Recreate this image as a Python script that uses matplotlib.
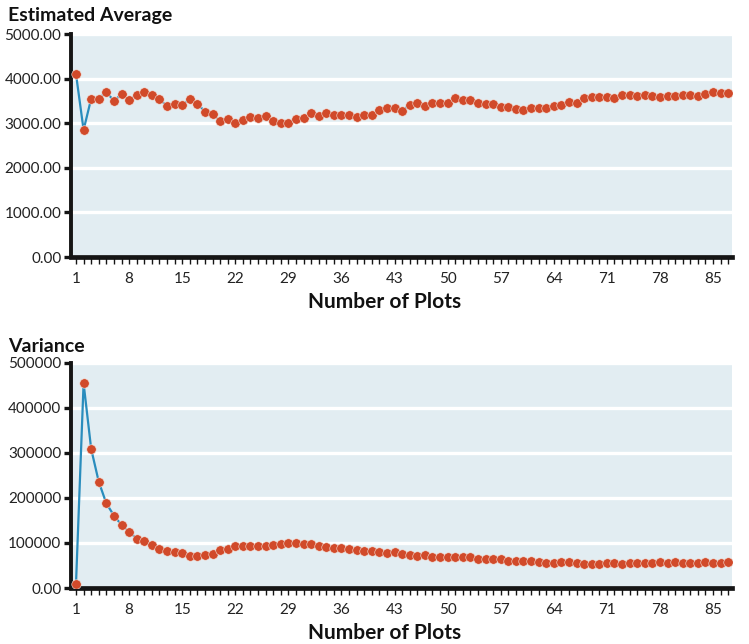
"""Estimated average and variance vs number of plots."""

import matplotlib
matplotlib.use("Agg")
import matplotlib.pyplot as plt

plots = list(range(1, 88))

estimated_average = [
    4100, 2850, 3550, 3550, 3700, 3500, 3650, 3520, 3630, 3700,
    3630, 3535, 3390, 3420, 3410, 3535, 3440, 3260, 3200, 3040,
    3090, 3000, 3070, 3145, 3125, 3160, 3050, 3005, 3010, 3090,
    3125, 3220, 3155, 3220, 3185, 3185, 3185, 3140, 3185, 3185,
    3295, 3335, 3335, 3280, 3410, 3445, 3395, 3445, 3445, 3445,
    3555, 3520, 3520, 3445, 3425, 3425, 3355, 3355, 3315, 3295,
    3350, 3335, 3335, 3395, 3410, 3485, 3460, 3555, 3595, 3595,
    3595, 3570, 3630, 3630, 3610, 3630, 3620, 3595, 3610, 3610,
    3630, 3630, 3620, 3645, 3705, 3670, 3670,
]

variance = [
    10000, 455000, 309000, 236000, 188000, 161000, 140000, 125000, 110000, 104000,
    95500, 86500, 82200, 79000, 77000, 71000, 70500, 72500, 75000, 83500,
    86300, 93300, 93300, 93300, 92500, 93600, 96000, 97500, 100000, 100000,
    98500, 98000, 93300, 92000, 90000, 89000, 87500, 85000, 82600, 82000,
    79000, 78500, 79300, 74800, 73300, 71100, 73300, 69600, 68100, 68100,
    68100, 68100, 68100, 63700, 63700, 63700, 64400, 60700, 60700, 60700,
    60700, 58500, 56300, 56600, 57000, 57000, 54800, 52600, 52600, 52600,
    54800, 54800, 52600, 54800, 56300, 56300, 56300, 57000, 56300, 57000,
    56300, 56300, 56300, 57000, 56300, 54800, 57000,
]

x_tick_values = [1, 8, 15, 22, 29, 36, 43, 50, 57, 64, 71, 78, 85]

avg_ticks = [0, 1000, 2000, 3000, 4000, 5000]
avg_tick_labels = ["0.00", "1000.00", "2000.00", "3000.00", "4000.00", "5000.00"]

var_ticks = [0, 100000, 200000, 300000, 400000, 500000]
var_tick_labels = ["0.00", "100000", "200000", "300000", "400000", "500000"]

W, H = 749, 644
PANEL = "#e2edf2"
DOT = "#d14a2a"
LINE = "#2a8dbd"
FONT = "Lato"


def px_axes(fig, left, top, right, bottom):
    return fig.add_axes([left / W, 1 - bottom / H, (right - left) / W, (bottom - top) / H])


def draw_panel(ax, values, ticks, tick_labels, ymax):
    ax.set_facecolor(PANEL)
    ax.plot(plots, values, color=LINE, linewidth=1.6, zorder=2)
    ax.plot(plots, values, linestyle="none", marker="o", markersize=6.8,
            markerfacecolor=DOT, markeredgecolor="#f4e6e0", markeredgewidth=0.4, zorder=3)
    ax.set_xlim(0.34, 87.5)
    ax.set_ylim(0, ymax)
    ax.set_yticks(ticks)
    ax.set_yticklabels(tick_labels)
    ax.set_xticks(x_tick_values)
    ax.set_xticklabels([str(v) for v in x_tick_values])
    ax.set_xticks([p for p in plots if p not in x_tick_values], minor=True)
    ax.grid(axis="y", color="white", linewidth=2.4, zorder=1)
    ax.set_axisbelow(True)
    for side in ("top", "right"):
        ax.spines[side].set_visible(False)
    ax.spines["left"].set_linewidth(2.8)
    ax.spines["bottom"].set_linewidth(3.4)
    ax.spines["left"].set_color("#151515")
    ax.spines["bottom"].set_color("#151515")
    ax.tick_params(axis="y", length=5, width=2.4, color="#151515", pad=2,
                   labelsize=11, labelcolor="#222222")
    ax.tick_params(axis="x", which="both", length=5, width=1.0, color="#151515",
                   pad=6, labelsize=11, labelcolor="#222222")
    for label in ax.get_xticklabels() + ax.get_yticklabels():
        label.set_fontfamily(FONT)


fig = plt.figure(figsize=(W / 100, H / 100), dpi=100)

ax_top = px_axes(fig, 71, 34, 732, 257)
draw_panel(ax_top, estimated_average, avg_ticks, avg_tick_labels, 5000)

ax_bottom = px_axes(fig, 71, 363, 732, 588)
draw_panel(ax_bottom, variance, var_ticks, var_tick_labels, 500000)

title_style = dict(fontfamily=FONT, fontweight="bold", fontsize=14, color="#111111")
xlabel_style = dict(fontfamily=FONT, fontweight="bold", fontsize=15, color="#111111")
fig.text(8 / W, 1 - 15 / H, "Estimated Average", ha="left", va="center", **title_style)
fig.text(8 / W, 1 - 346 / H, "Variance", ha="left", va="center", **title_style)
fig.text(385 / W, 1 - 302 / H, "Number of Plots", ha="center", va="center", **xlabel_style)
fig.text(385 / W, 1 - 633 / H, "Number of Plots", ha="center", va="center", **xlabel_style)

fig.savefig("out.png", dpi=100)
plt.close(fig)
